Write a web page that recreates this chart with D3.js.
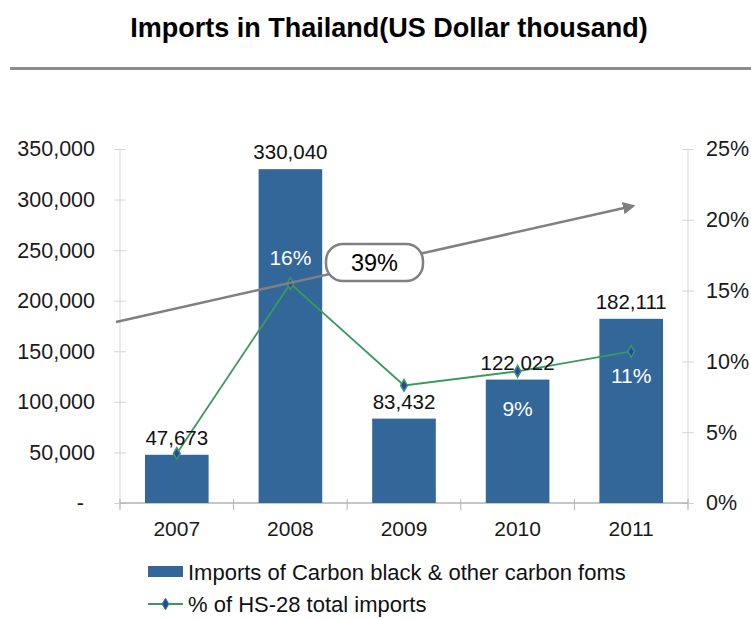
<!DOCTYPE html>
<html>
<head>
<meta charset="utf-8">
<script src="https://cdn.jsdelivr.net/npm/d3@7"></script>
<style>
  html, body { margin: 0; padding: 0; background: #ffffff; }
  svg { display: block; font-family: "Liberation Sans", Arial, sans-serif; }
</style>
</head>
<body>
<svg id="chart" width="751" height="619"></svg>
<script>
// Imports of carbon black into Thailand, 2007-2011
const years = ["2007", "2008", "2009", "2010", "2011"];
const importValues = [47673, 330040, 83432, 122022, 182111];
const shareOfHs28 = [0.035, 0.155, 0.083, 0.093, 0.107];
// which share labels are printed
const shareLabelShown = [false, true, false, true, true];
const leftTicks = [0, 50000, 100000, 150000, 200000, 250000, 300000, 350000];
const rightTicks = [0, 0.05, 0.10, 0.15, 0.20, 0.25];
const growthLabel = "39%";
const titleText = "Imports in Thailand(US Dollar thousand)";
const legendBar = "Imports of Carbon black & other carbon foms";
const legendLine = "% of HS-28 total imports";

const svg = d3.select("#chart");
const plot = { left: 120, right: 688, top: 149, bottom: 503 };
const FONT = "Liberation Sans, Arial, sans-serif";
// vertical offset of each share label's baseline from its point
const shareLabelDy = [-19, -19, -19, 45, 32];

const x = d3.scaleBand().domain(years).range([plot.left, plot.right]).paddingInner(0.44).paddingOuter(0.22);
const xEdges = d3.scaleBand().domain(years).range([plot.left, plot.right]);
const yL = d3.scaleLinear().domain([0, 350000]).range([plot.bottom, plot.top]);
const yR = d3.scaleLinear().domain([0, 0.25]).range([plot.bottom, plot.top]);

const barColor = "#336699";
const lineColor = "#3a9a5e";
const axisColor = "#d4d4d4";

// title and rule
svg.append("text").attr("x", 389).attr("y", 37).attr("text-anchor", "middle")
  .attr("font-size", 27).attr("font-weight", "bold").attr("fill", "#000").text(titleText);
svg.append("line").attr("x1", 10).attr("x2", 751).attr("y1", 68.5).attr("y2", 68.5)
  .attr("stroke", "#8c8c8c").attr("stroke-width", 3);

// left axis (zero shown as an accounting dash)
const leftAxis = d3.axisLeft(yL).tickValues(leftTicks).tickSize(6).tickPadding(19)
  .tickFormat(d => d === 0 ? "-" : d3.format(",")(d));
const gL = svg.append("g").attr("transform", `translate(${plot.left},0)`).call(leftAxis);
gL.select(".domain").attr("stroke", axisColor).attr("d", `M0,${plot.top}V${plot.bottom + 6}`);
gL.selectAll(".tick line").attr("stroke", axisColor).attr("x1", 6).attr("x2", -6);
gL.selectAll(".tick text").attr("font-size", 21.5).attr("fill", "#1a1a1a").attr("font-family", FONT)
  .attr("dx", d => d === 0 ? -11 : 0);

// right axis
const rightAxis = d3.axisRight(yR).tickValues(rightTicks).tickSize(6).tickPadding(12)
  .tickFormat(d3.format(".0%"));
const gR = svg.append("g").attr("transform", `translate(${plot.right},0)`).call(rightAxis);
gR.select(".domain").attr("stroke", axisColor).attr("d", `M0,${plot.top}V${plot.bottom + 6}`);
gR.selectAll(".tick line").attr("stroke", axisColor).attr("x1", -6).attr("x2", 6);
gR.selectAll(".tick text").attr("font-size", 21.5).attr("fill", "#1a1a1a").attr("font-family", FONT);

// bottom axis: ticks at category boundaries
const boundaries = years.map(y => xEdges(y)).concat([plot.right]);
const gB = svg.append("g");
gB.append("line").attr("x1", plot.left).attr("x2", plot.right).attr("y1", plot.bottom).attr("y2", plot.bottom)
  .attr("stroke", "#b3b3b3").attr("stroke-width", 1.5);
gB.selectAll("line.bt").data(boundaries).join("line").attr("class", "bt")
  .attr("x1", d => d).attr("x2", d => d).attr("y1", plot.bottom - 4).attr("y2", plot.bottom + 7)
  .attr("stroke", "#b3b3b3");
gB.selectAll("text").data(years).join("text")
  .attr("x", d => x(d) + x.bandwidth() / 2).attr("y", plot.bottom + 33)
  .attr("text-anchor", "middle").attr("font-size", 21).attr("fill", "#1a1a1a").text(d => d);

// bars
svg.append("g").selectAll("rect").data(years).join("rect")
  .attr("x", d => x(d)).attr("width", x.bandwidth())
  .attr("y", (d, i) => yL(importValues[i]))
  .attr("height", (d, i) => plot.bottom - yL(importValues[i]))
  .attr("fill", barColor);

// share line
const cx = d => x(d) + x.bandwidth() / 2;
const line = d3.line().x((d, i) => cx(years[i])).y(d => yR(d));
svg.append("path").datum(shareOfHs28).attr("d", line)
  .attr("fill", "none").attr("stroke", lineColor).attr("stroke-width", 1.8);

// bar value labels
svg.append("g").selectAll("text").data(years).join("text")
  .attr("x", d => cx(d)).attr("y", (d, i) => yL(importValues[i]) - 10)
  .attr("text-anchor", "middle").attr("font-size", 20.5).attr("fill", "#111")
  .text((d, i) => d3.format(",")(importValues[i]));

// markers
const diamond = d3.symbol().type(d3.symbolDiamond).size(40);
svg.append("g").selectAll("path").data(shareOfHs28).join("path")
  .attr("d", diamond)
  .attr("transform", (d, i) => `translate(${cx(years[i])},${yR(d)})`)
  .attr("fill", "#2f3fb8").attr("stroke", lineColor).attr("stroke-width", 1.5);

// share labels (white, printed for selected years only)
const shareLabels = years.map((yr, i) => ({ yr, v: shareOfHs28[i], shown: shareLabelShown[i], dy: shareLabelDy[i] }))
  .filter(d => d.shown);
svg.append("g").selectAll("text").data(shareLabels).join("text")
  .attr("x", d => cx(d.yr))
  .attr("y", d => yR(d.v) + d.dy)
  .attr("text-anchor", "middle").attr("font-size", 21).attr("fill", "#ffffff")
  .text(d => d3.format(".0%")(d.v));

// growth arrow with callout
const defs = svg.append("defs");
defs.append("marker").attr("id", "arrowHead").attr("viewBox", "0 0 10 10")
  .attr("refX", 8).attr("refY", 5).attr("markerWidth", 5).attr("markerHeight", 5)
  .attr("orient", "auto-start-reverse")
  .append("path").attr("d", "M0,0L10,5L0,10z").attr("fill", "#808080");
svg.append("line").attr("x1", 116).attr("y1", 322).attr("x2", 633).attr("y2", 206)
  .attr("stroke", "#808080").attr("stroke-width", 2.5).attr("marker-end", "url(#arrowHead)");
svg.append("rect").attr("x", 326).attr("y", 244).attr("width", 97).attr("height", 37)
  .attr("rx", 17).attr("ry", 17).attr("fill", "#fff").attr("stroke", "#808080").attr("stroke-width", 2.5);
svg.append("text").attr("x", 374.5).attr("y", 271).attr("text-anchor", "middle")
  .attr("font-size", 23.5).attr("fill", "#000").text(growthLabel);

// legend
const lg = svg.append("g");
lg.append("rect").attr("x", 148).attr("y", 566).attr("width", 35).attr("height", 11).attr("fill", barColor);
lg.append("text").attr("x", 188).attr("y", 580).attr("font-size", 22).attr("fill", "#111").text(legendBar);
lg.append("line").attr("x1", 148).attr("x2", 183).attr("y1", 604).attr("y2", 604).attr("stroke", lineColor).attr("stroke-width", 2);
lg.append("path").attr("d", diamond).attr("transform", "translate(165.5,604)").attr("fill", "#2f3fb8").attr("stroke", lineColor).attr("stroke-width", 1);
lg.append("text").attr("x", 188).attr("y", 612).attr("font-size", 22).attr("fill", "#111").text(legendLine);
</script>
</body>
</html>
